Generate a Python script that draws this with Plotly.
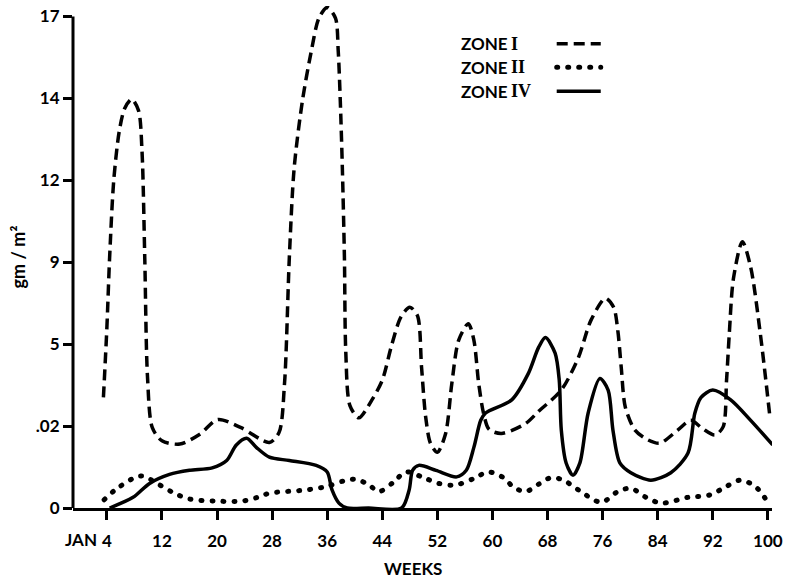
import plotly.graph_objects as go

# ---------------- data (x in weeks, y in axis-position units; tick labels below) ----------------
y_tick_pos = [0, 1, 2, 3, 4, 5, 6]
y_tick_labels = ["0", ".02", "5", "9", "12", "14", "17"]
x_ticks = [4, 12, 20, 28, 36, 44, 52, 60, 68, 76, 84, 92, 100]

zone1_weeks = [3.5, 4.0, 4.4, 5.0, 5.8, 6.6, 7.6, 8.6, 9.1, 9.5, 9.9, 10.6, 12.0, 14.6, 17.5, 20.1, 23.5,
               27.6, 29.0, 29.8, 30.5, 31.2, 32.4, 33.7, 34.8, 36.0, 37.2, 37.6, 37.9, 38.2, 38.5, 38.7,
               39.3, 40.6, 42.5, 44.0, 45.4, 46.7, 48.0, 49.1, 49.7, 50.3, 51.0, 52.0, 53.2, 54.1, 55.1,
               56.5, 57.3, 58.0, 58.7, 59.5, 61.3, 64.8, 66.7, 70.0, 72.5, 74.3, 76.4, 77.6, 78.2, 78.7,
               79.3, 80.7, 82.6, 84.3, 86.9, 88.8, 90.5, 92.3, 93.5, 94.0, 94.4, 95.0, 96.3, 97.5, 98.9,
               100.3]
zone1_vals = [1.35, 2.2, 3.06, 4.00, 4.60, 4.88, 4.99, 4.85, 4.36, 3.06, 1.60, 0.98, 0.82, 0.78, 0.90,
              1.08, 0.98, 0.80, 0.92, 1.52, 3.06, 4.15, 4.97, 5.58, 5.98, 6.11, 5.98, 5.58, 4.97, 4.15,
              3.06, 1.90, 1.25, 1.10, 1.32, 1.56, 2.00, 2.33, 2.45, 2.35, 1.72, 1.11, 0.79, 0.68, 0.91,
              1.52, 2.05, 2.25, 2.05, 1.52, 1.16, 0.96, 0.91, 1.03, 1.18, 1.44, 1.84, 2.29, 2.56, 2.45,
              2.17, 1.72, 1.23, 0.95, 0.83, 0.79, 0.95, 1.07, 0.97, 0.89, 0.99, 1.56, 2.13, 2.80, 3.25,
              2.94, 2.13, 1.11]

zone2_weeks = [3.6, 5.2, 7.8, 9.2, 11.7, 13.8, 16.0, 19.6, 23.7, 25.9, 27.6, 32.9, 35.8, 38.4, 40.2,
               42.1, 43.5, 45.7, 47.4, 50.0, 52.2, 54.6, 57.3, 59.4, 61.6, 63.0, 64.8, 66.7, 68.5, 70.3,
               72.5, 75.8, 78.2, 80.1, 82.3, 84.5, 88.4, 91.6, 93.9, 96.0, 98.2, 100.0]
zone2_vals = [0.10, 0.22, 0.36, 0.39, 0.28, 0.18, 0.11, 0.085, 0.085, 0.13, 0.18, 0.22, 0.26, 0.33, 0.35,
              0.28, 0.20, 0.32, 0.44, 0.37, 0.30, 0.28, 0.36, 0.44, 0.37, 0.26, 0.20, 0.29, 0.37, 0.34,
              0.22, 0.07, 0.20, 0.24, 0.13, 0.06, 0.13, 0.16, 0.26, 0.34, 0.26, 0.07]

zone4_weeks = [4.4, 7.8, 10.2, 13.1, 16.0, 19.3, 21.4, 22.8, 24.3, 25.7, 27.6, 30.5, 34.4, 36.0, 36.7,
               37.7, 38.9, 42.0, 46.8, 47.9, 48.4, 49.3, 51.8, 54.8, 56.2, 57.3, 58.3, 59.0, 62.8, 65.2,
               66.7, 67.7, 69.1, 69.7, 70.0, 70.7, 71.7, 72.7, 73.9, 75.6, 76.8, 77.5, 78.5, 80.1, 83.0,
               85.9, 88.4, 89.4, 90.3, 92.0, 94.6, 97.5, 100.7]
zone4_vals = [0.0, 0.13, 0.30, 0.41, 0.46, 0.49, 0.58, 0.77, 0.85, 0.74, 0.62, 0.58, 0.52, 0.44, 0.22,
              0.06, 0.0, 0.0, 0.0, 0.22, 0.46, 0.52, 0.46, 0.38, 0.46, 0.74, 1.07, 1.16, 1.32, 1.64,
              1.96, 2.08, 1.89, 1.56, 0.95, 0.55, 0.40, 0.55, 1.16, 1.58, 1.44, 0.95, 0.55, 0.43, 0.34,
              0.43, 0.67, 1.16, 1.35, 1.44, 1.32, 1.07, 0.77]

series_names = ["ZONE I", "ZONE II", "ZONE IV"]
legend_numerals = ["I", "II", "IV"]

# ---------------- figure ----------------
fig = go.Figure()
fig.add_trace(go.Scatter(x=zone1_weeks, y=zone1_vals, mode="lines", name=series_names[0],
                         line=dict(color="black", width=3.5, dash="11px,6px", shape="spline", smoothing=0.8)))
fig.add_trace(go.Scatter(x=zone2_weeks, y=zone2_vals, mode="lines", name=series_names[1],
                         line=dict(color="black", width=5, dash="1px,10px", shape="spline", smoothing=0.9)))
fig.add_trace(go.Scatter(x=zone4_weeks, y=zone4_vals, mode="lines", name=series_names[2],
                         line=dict(color="black", width=3.5, shape="spline", smoothing=0.8)))

tick_font = dict(family="Lato", size=17, color="black", weight="bold")
title_font = dict(family="Lato", size=17, color="black", weight="bold")

fig.update_layout(
    width=788, height=583,
    margin=dict(l=73, r=14, t=5, b=75),
    paper_bgcolor="white", plot_bgcolor="white",
    showlegend=False,
    xaxis=dict(range=[-0.92, 100.6], tickvals=x_ticks, ticktext=[str(v) for v in x_ticks],
               showgrid=False, zeroline=False, showline=True, linecolor="black", linewidth=3,
               ticks="outside", ticklen=9, tickwidth=2.5, tickcolor="black", tickfont=tick_font,
               ticklabelstandoff=7),
    yaxis=dict(range=[0, 6.127], tickvals=y_tick_pos, ticktext=y_tick_labels,
               showgrid=False, zeroline=False, showline=False,
               ticks="outside", ticklen=9, tickwidth=2.5, tickcolor="black", tickfont=tick_font,
               title=dict(text="gm / m²", font=dict(family="Lato", size=18, color="black", weight="bold"),
                          standoff=5)),
)

# y axis line only up to the top tick
fig.add_shape(type="line", xref="paper", x0=0, x1=0, yref="y", y0=0, y1=max(y_tick_pos),
              line=dict(color="black", width=3))

fig.add_annotation(text="JAN", xref="x", yref="paper", x=x_ticks[0], xshift=-8, y=0, yshift=-31,
                   xanchor="right", yanchor="middle", showarrow=False, font=tick_font)
fig.add_annotation(text="WEEKS", xref="x", yref="paper", x=48.5, y=0, yshift=-60,
                   xanchor="center", yanchor="middle", showarrow=False, font=title_font)

# legend (text on the left, line sample on the right)
legend_rows = [0.925, 0.878, 0.830]
legend_dash = ["11px,6px", "1px,10px", "solid"]
legend_width = [3.5, 5, 3.5]
for num, yy, dsh, wd in zip(legend_numerals, legend_rows, legend_dash, legend_width):
    fig.add_annotation(text="ZONE", xref="paper", yref="paper", x=0.552, y=yy,
                       xanchor="left", yanchor="middle", showarrow=False, font=title_font)
    fig.add_annotation(text=num, xref="paper", yref="paper", x=0.624, y=yy,
                       xanchor="left", yanchor="middle", showarrow=False,
                       font=dict(family="Liberation Serif", size=18, color="black", weight="bold"))
    fig.add_shape(type="line", xref="paper", yref="paper", x0=0.692, x1=0.755, y0=yy, y1=yy,
                  line=dict(color="black", width=wd, dash=dsh))

post = """
var gd = document.getElementById('{plot_id}');
function fixCaps(){
  gd.querySelectorAll('path').forEach(function(p){
    var d = p.style.strokeDasharray || '';
    if (/^1px/.test(d)) { p.style.strokeLinecap = 'round'; }
  });
}
fixCaps();
gd.on('plotly_afterplot', fixCaps);
"""

fig.write_html("out.html", post_script=post)
